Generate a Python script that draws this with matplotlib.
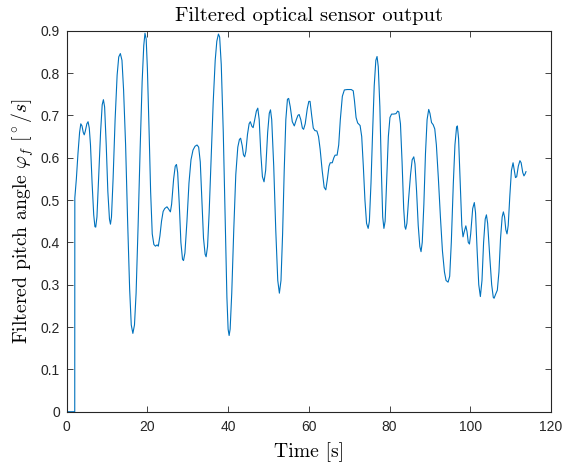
import matplotlib
matplotlib.use("Agg")
import matplotlib.pyplot as plt

plt.rcParams['mathtext.fontset'] = 'cm'

time_s = [
    0.0, 2.0, 2.02, 2.4, 2.8, 3.2, 3.5, 3.8, 4.1, 4.35,
    4.6, 5.0, 5.3, 5.6, 5.9, 6.3, 6.7, 7.0, 7.2, 7.5,
    7.9, 8.4, 8.8, 9.1, 9.4, 9.8, 10.2, 10.6, 10.85, 11.1,
    11.5, 12.0, 12.5, 12.9, 13.3, 13.7, 14.1, 14.6, 15.1, 15.6,
    16.0, 16.4, 16.8, 17.2, 17.7, 18.2, 18.7, 19.1, 19.4, 19.7,
    20.0, 20.4, 20.8, 21.2, 21.6, 22.0, 22.4, 22.7, 23.1, 23.5,
    23.9, 24.3, 24.85, 25.3, 25.7, 26.0, 26.5, 26.9, 27.2, 27.5,
    27.9, 28.3, 28.7, 28.95, 29.3, 29.8, 30.3, 30.8, 31.3, 31.8,
    32.3, 32.7, 33.1, 33.5, 33.9, 34.3, 34.55, 34.9, 35.3, 35.8,
    36.3, 36.8, 37.2, 37.6, 37.9, 38.3, 38.8, 39.3, 39.7, 40.0,
    40.25, 40.5, 40.9, 41.4, 41.9, 42.4, 42.8, 43.1, 43.5, 43.8,
    44.1, 44.4, 44.8, 45.2, 45.5, 45.9, 46.2, 46.6, 47.0, 47.35,
    47.7, 48.1, 48.5, 48.9, 49.3, 49.8, 50.2, 50.5, 50.8, 51.3,
    51.8, 52.3, 52.7, 53.1, 53.5, 53.9, 54.3, 54.7, 55.0, 55.4,
    55.9, 56.4, 56.9, 57.3, 57.6, 58.0, 58.4, 58.7, 59.1, 59.6,
    60.0, 60.3, 60.7, 61.1, 61.5, 62.0, 62.4, 62.8, 63.3, 63.8,
    64.2, 64.6, 65.0, 65.3, 65.8, 66.2, 66.5, 67.0, 67.4, 67.8,
    68.3, 68.8, 69.5, 70.5, 71.0, 71.3, 71.7, 72.1, 72.7, 73.1,
    73.5, 73.9, 74.3, 74.7, 75.0, 75.4, 75.8, 76.2, 76.6, 76.9,
    77.2, 77.6, 78.0, 78.3, 78.6, 78.9, 79.3, 79.7, 80.1, 80.5,
    81.0, 81.6, 82.0, 82.3, 82.7, 83.1, 83.5, 83.8, 84.0, 84.3,
    84.7, 85.2, 85.6, 86.0, 86.3, 86.7, 87.1, 87.5, 87.8, 88.1,
    88.5, 88.9, 89.3, 89.7, 90.0, 90.4, 90.8, 91.2, 91.6, 92.1,
    92.6, 93.1, 93.6, 94.0, 94.5, 94.9, 95.3, 95.8, 96.2, 96.6,
    96.8, 97.1, 97.5, 97.9, 98.2, 98.5, 98.9, 99.2, 99.5, 99.8,
    100.1, 100.6, 101.0, 101.3, 101.7, 102.1, 102.5, 102.9, 103.3, 103.7,
    104.0, 104.3, 104.8, 105.3, 105.7, 105.9, 106.3, 106.7, 107.1, 107.5,
    107.9, 108.2, 108.5, 108.8, 109.1, 109.4, 109.8, 110.2, 110.6, 110.9,
    111.2, 111.5, 111.9, 112.3, 112.6, 113.0, 113.3, 113.6, 113.8]

pitch = [
    0.0, 0.0, 0.505, 0.55, 0.61, 0.66, 0.68, 0.675, 0.66, 0.654,
    0.662, 0.68, 0.685, 0.67, 0.63, 0.54, 0.465, 0.437, 0.436, 0.46,
    0.55, 0.66, 0.725, 0.737, 0.72, 0.63, 0.52, 0.455, 0.443, 0.46,
    0.55, 0.69, 0.795, 0.838, 0.846, 0.83, 0.76, 0.63, 0.45, 0.29,
    0.205, 0.185, 0.205, 0.28, 0.44, 0.62, 0.78, 0.865, 0.894, 0.88,
    0.81, 0.67, 0.52, 0.42, 0.395, 0.391, 0.394, 0.391, 0.415, 0.45,
    0.473, 0.48, 0.484, 0.478, 0.472, 0.49, 0.55, 0.58, 0.584, 0.565,
    0.49, 0.40, 0.36, 0.357, 0.375, 0.45, 0.54, 0.595, 0.618, 0.627,
    0.63, 0.625, 0.59, 0.50, 0.41, 0.372, 0.366, 0.39, 0.47, 0.60,
    0.73, 0.83, 0.875, 0.892, 0.885, 0.82, 0.66, 0.44, 0.27, 0.195,
    0.18, 0.195, 0.28, 0.43, 0.56, 0.625, 0.643, 0.646, 0.628, 0.607,
    0.602, 0.615, 0.655, 0.68, 0.685, 0.674, 0.671, 0.69, 0.71, 0.717,
    0.69, 0.61, 0.555, 0.543, 0.57, 0.66, 0.705, 0.713, 0.69, 0.58,
    0.43, 0.31, 0.28, 0.31, 0.42, 0.57, 0.69, 0.738, 0.74, 0.72,
    0.685, 0.675, 0.69, 0.70, 0.702, 0.69, 0.67, 0.667, 0.68, 0.715,
    0.733, 0.733, 0.70, 0.67, 0.664, 0.663, 0.65, 0.62, 0.57, 0.53,
    0.524, 0.55, 0.58, 0.588, 0.588, 0.600, 0.606, 0.606, 0.63, 0.69,
    0.745, 0.76, 0.761, 0.761, 0.758, 0.735, 0.695, 0.682, 0.676, 0.65,
    0.58, 0.50, 0.445, 0.433, 0.45, 0.54, 0.66, 0.77, 0.83, 0.839,
    0.815, 0.72, 0.56, 0.46, 0.433, 0.45, 0.55, 0.65, 0.695, 0.703,
    0.703, 0.704, 0.71, 0.708, 0.68, 0.59, 0.48, 0.437, 0.431, 0.445,
    0.50, 0.56, 0.595, 0.602, 0.585, 0.52, 0.44, 0.39, 0.378, 0.40,
    0.49, 0.61, 0.69, 0.714, 0.705, 0.683, 0.678, 0.668, 0.63, 0.55,
    0.46, 0.38, 0.33, 0.31, 0.306, 0.32, 0.40, 0.54, 0.63, 0.672,
    0.675, 0.645, 0.54, 0.44, 0.413, 0.425, 0.439, 0.425, 0.40, 0.396,
    0.42, 0.48, 0.494, 0.47, 0.38, 0.30, 0.272, 0.31, 0.40, 0.455,
    0.465, 0.445, 0.37, 0.30, 0.27, 0.268, 0.278, 0.287, 0.33, 0.41,
    0.46, 0.472, 0.46, 0.43, 0.42, 0.44, 0.51, 0.57, 0.588, 0.57,
    0.553, 0.555, 0.58, 0.593, 0.588, 0.565, 0.557, 0.562, 0.567]

x_ticks = [0, 20, 40, 60, 80, 100, 120]
y_ticks = [0, 0.1, 0.2, 0.3, 0.4, 0.5, 0.6, 0.7, 0.8, 0.9]
y_tick_labels = ['0', '0.1', '0.2', '0.3', '0.4', '0.5', '0.6', '0.7', '0.8', '0.9']

title_text = 'Filtered optical sensor output'
x_label = 'Time [s]'
y_label = r'Filtered pitch angle $\varphi_f\ [^\circ/s]$'

fig = plt.figure(figsize=(5.66, 4.67), dpi=100)
ax = fig.add_axes([0.1178, 0.1184, 0.8557, 0.8159])
ax.plot(time_s, pitch, color='#0072BD', lw=0.8, solid_joinstyle='round')
ax.set_xlim(0, 120)
ax.set_ylim(0, 0.9)
ax.set_xticks(x_ticks)
ax.set_xticklabels([str(v) for v in x_ticks])
ax.set_yticks(y_ticks)
ax.set_yticklabels(y_tick_labels)

edge = '#262626'
for s in ax.spines.values():
    s.set_color(edge)
    s.set_linewidth(0.8)
ax.tick_params(direction='in', top=True, right=True, length=4, width=0.6,
               color=edge, labelcolor=edge, labelsize=10)
ax.tick_params(axis='x', pad=6)
ax.tick_params(axis='y', pad=4.8)
for lab in ax.get_xticklabels() + ax.get_yticklabels():
    lab.set_fontfamily('Liberation Sans')

ax.set_title(title_text, fontfamily='cmr10', fontsize=14.8, pad=7)
ax.set_xlabel(x_label, fontfamily='cmr10', fontsize=14.2, labelpad=6)
ax.set_ylabel(y_label, fontfamily='cmr10', fontsize=14.2, labelpad=3.5)

fig.savefig('out.png', dpi=100)
